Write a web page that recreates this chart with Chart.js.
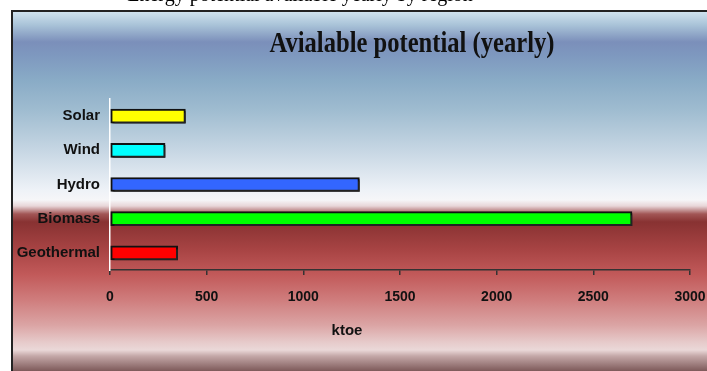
<!DOCTYPE html>
<html>
<head>
<meta charset="utf-8">
<script src="https://cdn.jsdelivr.net/npm/chart.js@4/dist/chart.umd.min.js"></script>
<style>
  html, body { margin: 0; padding: 0; background: #fff; overflow: hidden; }
  #wrap { position: relative; width: 707px; height: 371px; }
</style>
</head>
<body>
<div id="wrap"><canvas id="c" width="707" height="371"></canvas></div>
<script>
// Available renewable potential per source, in ktoe per year
const categories = ['Solar', 'Wind', 'Hydro', 'Biomass', 'Geothermal'];
const potentialKtoe = [390, 285, 1290, 2700, 350];
const barColors = ['#ffff00', '#00ffff', '#3366ff', '#00ff00', '#ff0000'];
const xTicks = [0, 500, 1000, 1500, 2000, 2500, 3000];
const chartTitle = 'Avialable potential (yearly)';
const axisTitle = 'ktoe';
const captionText = 'Energy potential available yearly by region';

// Framed panel with a blue-white-red vertical wash, plus the caption line above it
const backdrop = {
  id: 'backdrop',
  beforeDraw(chart) {
    const ctx = chart.ctx;
    const W = chart.width, H = chart.height;
    ctx.save();
    ctx.fillStyle = '#ffffff';
    ctx.fillRect(0, 0, W, H);

    // caption, mostly cut off by the top edge
    ctx.font = '20px "Liberation Serif"';
    ctx.fillStyle = '#000';
    ctx.textBaseline = 'alphabetic';
    const x0 = 165 - ctx.measureText('Ener').width;
    ctx.fillText(captionText, x0, 1);

    const top = 11, left = 12;
    const g = ctx.createLinearGradient(0, top, 0, H);
    const stops = [
      [12, '#cfe2ee'], [25, '#a9c3d8'], [42, '#7b8fba'], [55, '#7e98bf'],
      [80, '#89abc6'], [110, '#9fbcd0'], [150, '#c6d6e3'], [190, '#eef2f7'],
      [200, '#f6f6f8'], [206, '#e8d6d8'], [214, '#a25656'], [222, '#883232'],
      [250, '#a84444'], [275, '#c25a5a'], [300, '#cf7d7d'], [325, '#dba4a4'],
      [342, '#e6caca'], [350, '#ead8d8'], [356, '#c4a8a8'], [371, '#7e5a5a']
    ];
    stops.forEach(([y, c]) => g.addColorStop(Math.min(1, Math.max(0, (y - top) / (H - top))), c));
    ctx.fillStyle = g;
    ctx.fillRect(left, top, W - left, H - top);

    ctx.strokeStyle = '#222';
    ctx.lineWidth = 2;
    ctx.beginPath();
    ctx.moveTo(left, H);
    ctx.lineTo(left, top);
    ctx.lineTo(W, top);
    ctx.stroke();
    ctx.restore();
  },
  beforeDatasetsDraw(chart) {
    const ctx = chart.ctx;
    ctx.save();
    ctx.shadowColor = 'rgba(40,40,40,0.75)';
    ctx.shadowOffsetX = 2;
    ctx.shadowOffsetY = 2;
    ctx.shadowBlur = 0;
  },
  afterDatasetsDraw(chart) {
    chart.ctx.restore();
  },
  afterDraw(chart) {
    const ctx = chart.ctx;
    ctx.save();
    // heading, set in a tall narrow serif
    ctx.font = 'bold 30px "Liberation Serif"';
    ctx.fillStyle = '#111';
    ctx.textAlign = 'center';
    ctx.textBaseline = 'alphabetic';
    const w = ctx.measureText(chartTitle).width;
    ctx.translate(412, 52);
    ctx.scale(285 / w, 1);
    ctx.fillText(chartTitle, 0, 0);
    ctx.restore();

    ctx.save();
    ctx.font = 'bold 15px "Liberation Sans"';
    ctx.fillStyle = '#111';
    ctx.textAlign = 'center';
    ctx.textBaseline = 'middle';
    ctx.fillText(axisTitle, 347, 331);
    ctx.restore();
  }
};

new Chart(document.getElementById('c'), {
  type: 'bar',
  data: {
    labels: categories,
    datasets: [{
      data: potentialKtoe,
      backgroundColor: barColors,
      borderColor: '#111',
      borderWidth: 2,
      borderSkipped: false,
      barThickness: 14
    }]
  },
  options: {
    indexAxis: 'y',
    responsive: false,
    animation: false,
    devicePixelRatio: 1,
    layout: { padding: { top: 99, right: 17, left: 0, bottom: 0 } },
    plugins: {
      legend: { display: false },
      title: { display: false },
      tooltip: { enabled: false }
    },
    scales: {
      x: {
        min: 0,
        max: 3000,
        afterBuildTicks(scale) { scale.ticks = xTicks.map(v => ({ value: v })); },
        afterFit(scale) { scale.height = 101; scale.paddingRight = 0; scale.paddingLeft = 0; },
        grid: { drawOnChartArea: false, drawTicks: true, tickLength: 5, color: '#333', lineWidth: 1.5 },
        border: { display: true, color: '#333', width: 1.5 },
        ticks: {
          color: '#111',
          padding: 14,
          maxRotation: 0,
          callback: v => String(v),
          font: { family: '"Liberation Sans"', weight: 'bold', size: 14 }
        }
      },
      y: {
        afterFit(scale) { scale.width = 110; },
        grid: { display: false, drawTicks: false },
        border: { display: true, color: '#ffffff', width: 1.5 },
        ticks: {
          color: '#111',
          padding: 10,
          font: { family: '"Liberation Sans"', weight: 'bold', size: 15 }
        }
      }
    }
  },
  plugins: [backdrop]
});
</script>
</body>
</html>
